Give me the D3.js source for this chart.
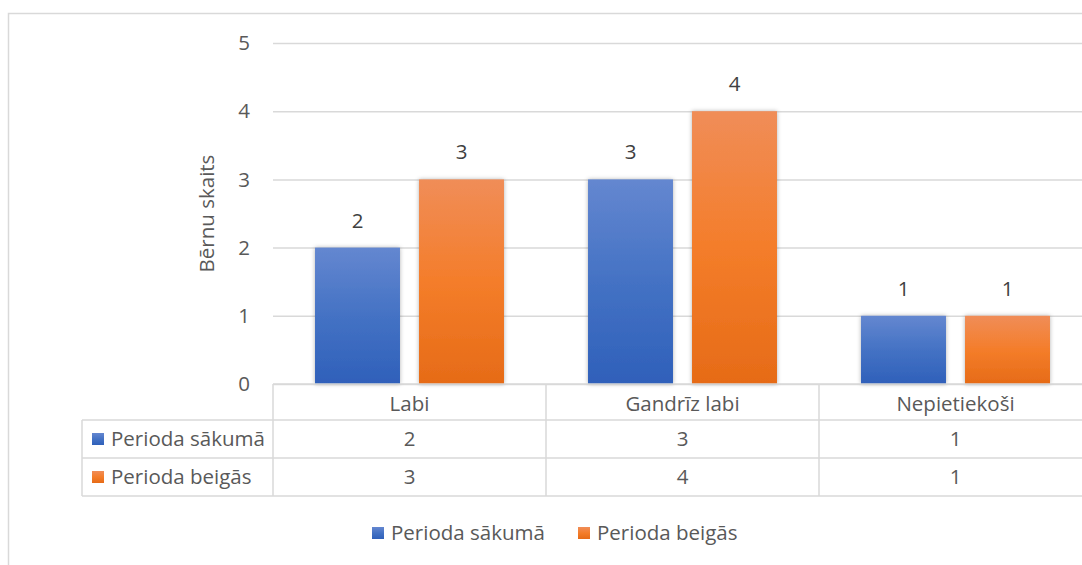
<!DOCTYPE html>
<html>
<head>
<meta charset="utf-8">
<script src="https://cdn.jsdelivr.net/npm/d3@7"></script>
<style>
  body { margin: 0; background: #fff; }
  svg text { font-family: "Open Sans", Lato, sans-serif; fill: #595959; font-size: 20.5px; }
</style>
</head>
<body>
<div id="chart"></div>
<script>
// data
const categories = ["Labi", "Gandrīz labi", "Nepietiekoši"];
const seriesNames = ["Perioda sākumā", "Perioda beigās"];
const sakuma = [2, 3, 1];
const beigas = [3, 4, 1];
const yTicks = [0, 1, 2, 3, 4, 5];
const yTitle = "Bērnu skaits";

const W = 1082, H = 565;
const plot = { left: 273, top: 43, bottom: 384, catW: 273 };

const svg = d3.select("#chart").append("svg")
    .attr("width", W).attr("height", H);

const defs = svg.append("defs");
const grads = [
    { id: "gBlue", stops: ["#6487d0", "#4472c4", "#2f60ba"] },
    { id: "gOrange", stops: ["#f08d58", "#f47d2a", "#e66b17"] }
];
grads.forEach(g => {
    const lg = defs.append("linearGradient").attr("id", g.id)
        .attr("x1", 0).attr("y1", 0).attr("x2", 0).attr("y2", 1);
    g.stops.forEach((c, i) => lg.append("stop").attr("offset", i / 2).attr("stop-color", c));
});
const flt = defs.append("filter").attr("id", "shadow")
    .attr("x", "-20%").attr("y", "-20%").attr("width", "140%").attr("height", "140%");
flt.append("feDropShadow").attr("dx", 0).attr("dy", 0).attr("stdDeviation", 2)
    .attr("flood-color", "#000").attr("flood-opacity", 0.3);

const colors = ["url(#gBlue)", "url(#gOrange)"];

// outer chart border (cropped by the window)
svg.append("rect")
    .attr("x", 8.5).attr("y", 13.5).attr("width", W + 20).attr("height", H + 20)
    .attr("fill", "none").attr("stroke", "#d9d9d9").attr("stroke-width", 1.5);

// scales
const x0 = d3.scaleBand().domain(categories)
    .range([plot.left, plot.left + plot.catW * categories.length]).padding(0);
const x1 = d3.scaleBand().domain(seriesNames)
    .range([0, x0.bandwidth()]).paddingInner(0.183).paddingOuter(0.404);
const y = d3.scaleLinear().domain([0, 5]).range([plot.bottom, plot.top]);

// gridlines
svg.append("g")
    .attr("transform", `translate(${plot.left},0)`)
    .call(d3.axisLeft(y).tickValues(yTicks).tickSize(-(W - plot.left + 20)).tickFormat(""))
    .call(g => g.select(".domain").remove())
    .selectAll("line")
    .attr("stroke", "#d9d9d9").attr("stroke-width", 1.5);

// y tick labels
svg.append("g").selectAll("text")
    .data(yTicks).enter().append("text")
    .attr("x", 244).attr("y", d => y(d))
    .attr("dy", "0.35em")
    .attr("text-anchor", "middle")
    .text(d => d);

// y title
svg.append("text")
    .attr("transform", `translate(214,${(plot.top + plot.bottom) / 2}) rotate(-90)`)
    .attr("text-anchor", "middle")
    .text(yTitle);

// bars
const rows = categories.map((c, i) => ({ cat: c, values: [sakuma[i], beigas[i]] }));
const groups = svg.selectAll(".cat")
    .data(rows).enter().append("g")
    .attr("class", "cat")
    .attr("transform", d => `translate(${x0(d.cat)},0)`);

groups.selectAll("rect")
    .data(d => d.values.map((v, k) => ({ v, k, s: seriesNames[k] })))
    .enter().append("rect")
    .attr("x", d => x1(d.s))
    .attr("y", d => y(d.v))
    .attr("width", x1.bandwidth())
    .attr("height", d => y(0) - y(d.v))
    .attr("fill", d => colors[d.k])
    .attr("filter", "url(#shadow)");

groups.selectAll(".lbl")
    .data(d => d.values.map((v, k) => ({ v, k, s: seriesNames[k] })))
    .enter().append("text")
    .attr("class", "lbl")
    .attr("x", d => x1(d.s) + x1.bandwidth() / 2)
    .attr("y", d => y(d.v) - 20)
    .attr("text-anchor", "middle")
    .style("fill", "#404040")
    .text(d => d.v);

// data table
const tbl = { left: 82, rowH: 38, headTop: plot.bottom, headH: 36 };
const tg = svg.append("g");
const lineC = "#d9d9d9";
const right = W + 20;
const r1 = tbl.headTop + tbl.headH;
const r2 = r1 + tbl.rowH;
const r3 = r2 + tbl.rowH;
[[plot.left, r1 - tbl.headH], [tbl.left, r1], [tbl.left, r2], [tbl.left, r3]].forEach(([xs, yy]) => {
    tg.append("line").attr("x1", xs).attr("x2", right).attr("y1", yy).attr("y2", yy)
        .attr("stroke", lineC).attr("stroke-width", 1.5);
});
tg.append("line").attr("x1", tbl.left).attr("x2", tbl.left).attr("y1", r1).attr("y2", r3)
    .attr("stroke", lineC).attr("stroke-width", 1.5);
categories.forEach((c, i) => {
    const xs = x0(c);
    const cx = xs + x0.bandwidth() / 2;
    tg.append("line").attr("x1", xs).attr("x2", xs).attr("y1", tbl.headTop).attr("y2", r3)
        .attr("stroke", lineC).attr("stroke-width", 1.5);
    tg.append("text").attr("x", cx).attr("y", tbl.headTop + tbl.headH / 2 + 2)
        .attr("dy", "0.35em").attr("text-anchor", "middle").text(c);
    tg.append("text").attr("x", cx).attr("y", r1 + tbl.rowH / 2)
        .attr("dy", "0.35em").attr("text-anchor", "middle").text(sakuma[i]);
    tg.append("text").attr("x", cx).attr("y", r2 + tbl.rowH / 2)
        .attr("dy", "0.35em").attr("text-anchor", "middle").text(beigas[i]);
});
seriesNames.forEach((s, k) => {
    const yy = r1 + k * tbl.rowH + tbl.rowH / 2;
    tg.append("rect").attr("x", 92).attr("y", yy - 6).attr("width", 12).attr("height", 12)
        .attr("fill", colors[k]);
    tg.append("text").attr("x", 111).attr("y", yy).attr("dy", "0.35em").text(s);
});

// bottom legend
const legend = svg.append("g");
const legendX = [372, 578];
seriesNames.forEach((s, k) => {
    legend.append("rect").attr("x", legendX[k]).attr("y", 527).attr("width", 12).attr("height", 12)
        .attr("fill", colors[k]);
    legend.append("text").attr("x", legendX[k] + 19).attr("y", 533).attr("dy", "0.35em").text(s);
});
</script>
</body>
</html>
